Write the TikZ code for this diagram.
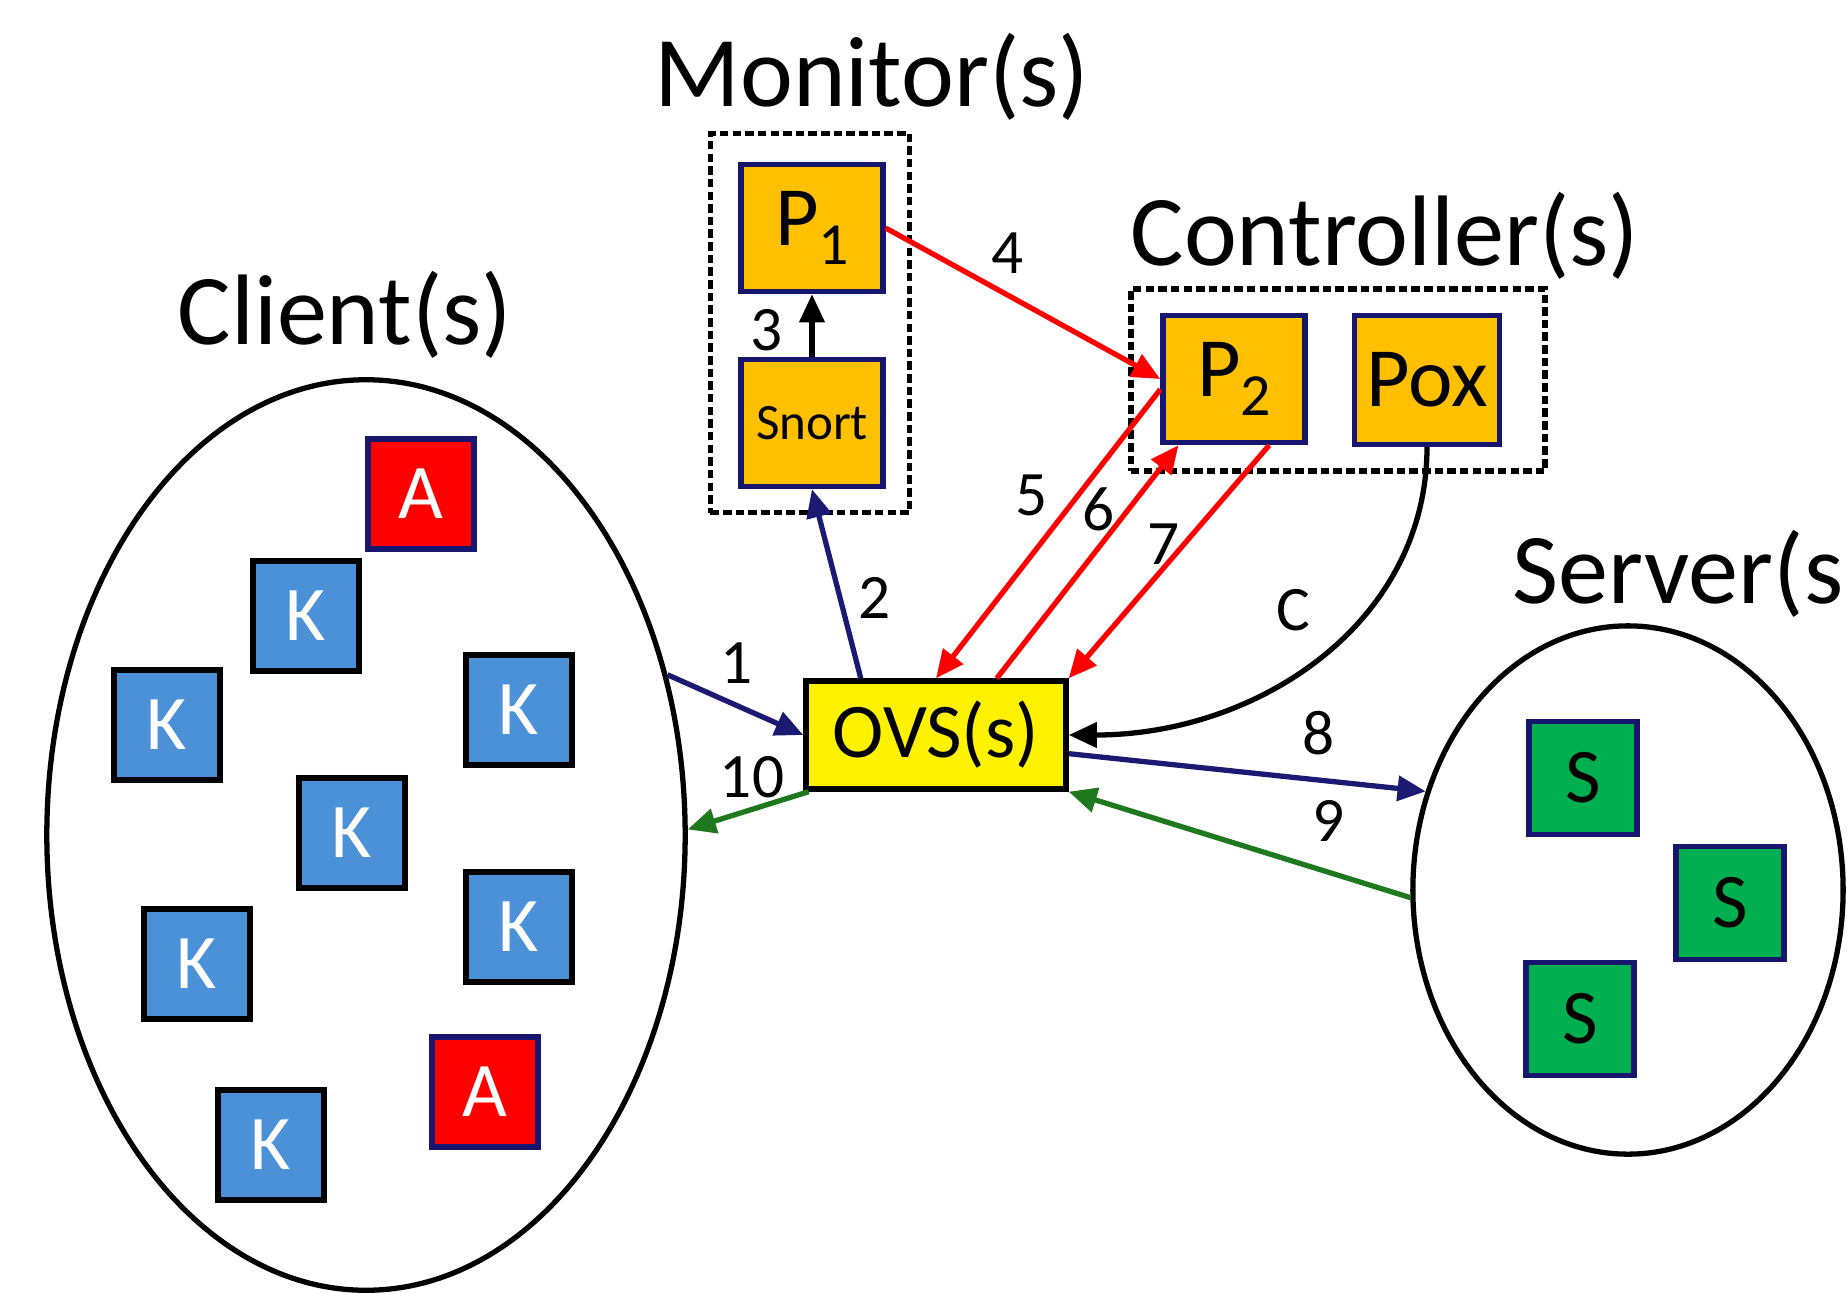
\documentclass[tikz,border=0pt]{standalone}
\usepackage{fontspec}
\setmainfont{Carlito}
\usetikzlibrary{arrows.meta,shapes.geometric}

\definecolor{boxorange}{HTML}{FFC000}
\definecolor{boxnavy}{RGB}{22,22,110}
\definecolor{kblue}{RGB}{75,145,215}
\definecolor{sgreen}{HTML}{00B050}
\definecolor{lnavy}{RGB}{26,26,114}
\definecolor{lgreen}{RGB}{30,120,30}

\newcommand{\lowsub}[1]{\raisebox{-0.22em}{\fontsize{17}{18}\selectfont #1}}

\begin{document}
\begin{tikzpicture}[
                x=0.01cm, y=-0.01cm,
                every node/.style={inner sep=0pt},
                box/.style={
                  draw=boxnavy,
                  line width=1.5pt,
                  minimum width=1.06cm,
                  minimum height=1.1cm,
                  font=\fontsize{22}{24}\selectfont,
                },
                kbox/.style={box, draw=black, fill=kblue, text=white},
                abox/.style={box, fill=red, text=white},
                sbox/.style={box, fill=sgreen, minimum width=1.08cm, minimum height=1.13cm},
                obox/.style={box, fill=boxorange, minimum width=1.42cm, minimum height=1.27cm,
                  font=\fontsize{24}{26}\selectfont},
                dotbox/.style={draw, line width=1.6pt, dash pattern=on 2.4pt off 1.2pt},
                grp/.style={draw, ellipse, line width=1.5pt},
                ttl/.style={font=\fontsize{28.5}{30}\selectfont},
                lbl/.style={font=\fontsize{18}{20}\selectfont},
                line width=1.5pt,
                >={Triangle[length=8pt,width=7pt]},
              ]
              \fill[white] (0,0) rectangle (1847,1293) ;
              \useasboundingbox (0,0) rectangle (1847,1293) ;
              % groups
              \node[grp, minimum width=6.38cm, minimum height=9.1cm] at (366,835) (client) {} ;
              \node[grp, minimum width=4.3cm, minimum height=5.28cm] at (1628,890) (server) {} ;
              \node[dotbox, minimum width=1.99cm, minimum height=3.79cm] at (810,323) (mon) {} ;
              \node[dotbox, minimum width=4.14cm, minimum height=1.82cm] at (1338,380) (ctl) {} ;
              \node[ttl] at (872,77) (tmon) {Monitor(s)} ;
              \node[ttl] at (345,315) (tcli) {Client(s)} ;
              \node[ttl] at (1385,236) (tctl) {Controller(s)} ;
              \node[ttl, anchor=west] at (1510,574) (tsrv) {Server(s)} ;
              % clients
              \node[abox] at (421,494) (a1) {A} ;
              \node[kbox] at (306,616) (k1) {K} ;
              \node[kbox] at (167,725) (k2) {K} ;
              \node[kbox] at (519,710) (k3) {K} ;
              \node[kbox] at (352,833) (k4) {K} ;
              \node[kbox] at (197,964) (k5) {K} ;
              \node[kbox] at (519,927) (k6) {K} ;
              \node[abox] at (485,1092) (a2) {A} ;
              \node[kbox] at (271,1145) (k7) {K} ;
              % servers
              \node[sbox] at (1583,778) (s1) {S} ;
              \node[sbox] at (1730,903) (s2) {S} ;
              \node[sbox] at (1580,1019) (s3) {S} ;
              % monitor, controller, switch
              \node[obox] at (812,228) (p1) {P\lowsub{1}} ;
              \node[obox, font=\fontsize{14.5}{16}\selectfont] at (812,423) (snort) {Snort} ;
              \node[obox] at (1234,379) (p2) {P\lowsub{2}} ;
              \node[obox, minimum width=1.45cm, minimum height=1.29cm] at (1427,380) (pox) {Pox} ;
              \node[box, draw=black, fill=yellow, minimum width=2.6cm, minimum height=1.08cm]
                at (936,735) (ovs) {OVS(s)} ;
              % flows
              \draw[->, lnavy] (client.28)--(ovs.west) ;
              \draw[->, lnavy] (ovs.143.5)--(snort.south) ;
              \draw[->] (snort.north)--(p1.south) ;
              \draw[->, red] (p1.east)--(p2.west) ;
              \draw[->, red] (p2.188)--(ovs.north) ;
              \draw[->, red] (ovs.43.5)--(p2.230) ;
              \draw[->, red] (p2.298.6)--(ovs.north east) ;
              \draw[->] (pox.south) .. controls +(0,175) and +(190,0) .. (ovs.east) ;
              \draw[->, lnavy] (ovs.-8)--(server.154) ;
              \draw[->, lgreen] (server.182)--(ovs.south east) ;
              \draw[->, lgreen] (ovs.204)--(client.1) ;
              % step numbers
              \node[lbl] at (737,663) (n1) {1} ;
              \node[lbl] at (875,598) (n2) {2} ;
              \node[lbl] at (767,330) (n3) {3} ;
              \node[lbl] at (1008,253) (n4) {4} ;
              \node[lbl] at (1032,495) (n5) {5} ;
              \node[lbl] at (1099,509) (n6) {6} ;
              \node[lbl] at (1164,544) (n7) {7} ;
              \node[lbl] at (1319,733) (n8) {8} ;
              \node[lbl] at (1329,821) (n9) {9} ;
              \node[lbl] at (752,777) (n10) {10} ;
              \node[lbl] at (1293,610) (nc) {C} ;
              \end{tikzpicture}
\end{document}
